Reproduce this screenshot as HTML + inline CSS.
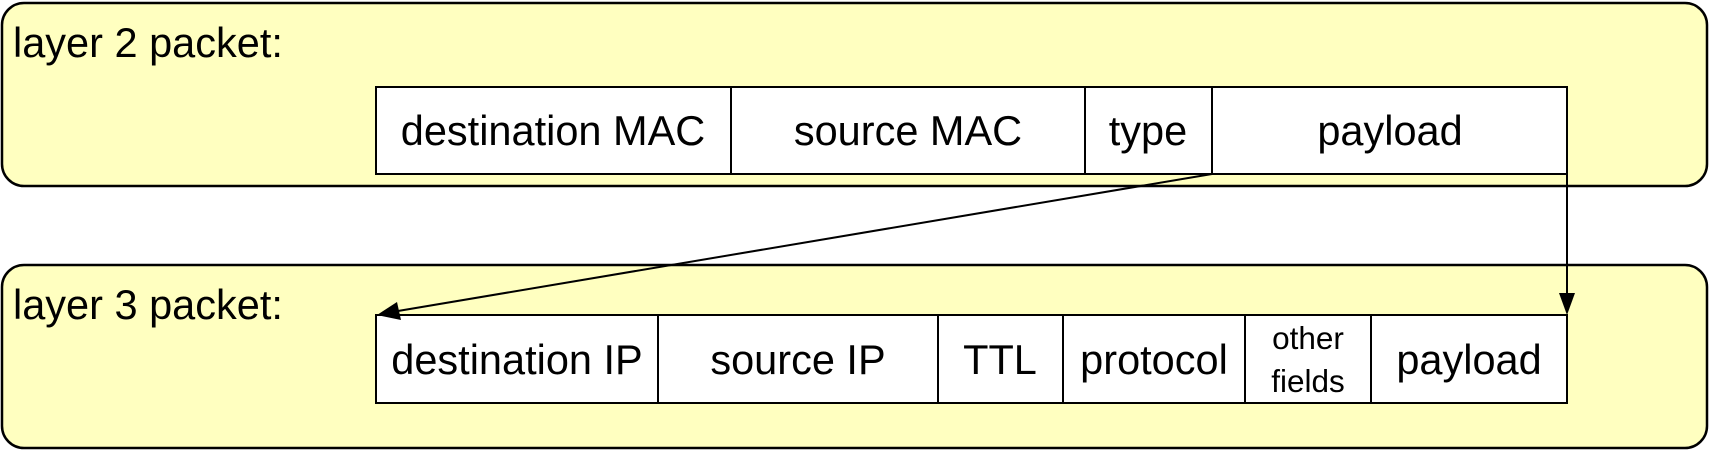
<!DOCTYPE html>
<html><head><meta charset="utf-8"><style>
html,body{margin:0;padding:0;background:#fff;}
svg{display:block;}
text{font-family:"Liberation Sans",Arial,sans-serif;fill:#000;}
</style></head><body>
<svg width="1712" height="451" viewBox="0 0 1712 451" xmlns="http://www.w3.org/2000/svg">
<rect x="2" y="3" width="1705" height="183" rx="22" fill="#ffffc0" stroke="#000" stroke-width="2.5"/>
<rect x="2" y="265" width="1705" height="183" rx="22" fill="#ffffc0" stroke="#000" stroke-width="2.5"/>
<text x="13" y="57" font-size="41.5">layer 2 packet:</text>
<text x="13" y="319" font-size="41.5">layer 3 packet:</text>

<g stroke="#000" stroke-width="2" fill="#fff">
<rect x="376" y="87" width="1191" height="87"/>
<line x1="731" y1="87" x2="731" y2="174"/>
<line x1="1085" y1="87" x2="1085" y2="174"/>
<line x1="1212" y1="87" x2="1212" y2="174"/>
<rect x="376" y="315" width="1191" height="88"/>
<line x1="658" y1="315" x2="658" y2="403"/>
<line x1="938" y1="315" x2="938" y2="403"/>
<line x1="1063" y1="315" x2="1063" y2="403"/>
<line x1="1245" y1="315" x2="1245" y2="403"/>
<line x1="1371" y1="315" x2="1371" y2="403"/>
</g>
<g font-size="41.5" text-anchor="middle">
<text x="553" y="145">destination MAC</text>
<text x="908" y="145">source MAC</text>
<text x="1148" y="145">type</text>
<text x="1390" y="145">payload</text>
<text x="517" y="374">destination IP</text>
<text x="798" y="374">source IP</text>
<text x="1000" y="374">TTL</text>
<text x="1154" y="374">protocol</text>
<text x="1469" y="374">payload</text>
<text x="1308" y="349" font-size="31.5">other</text>
<text x="1308" y="392" font-size="31.5">fields</text>
</g>
<g stroke="#000" stroke-width="2">
<line x1="1212" y1="174" x2="392" y2="312"/>
<line x1="1567" y1="174" x2="1567" y2="296"/>
</g>
<polygon points="377,315 397,302 401,320" fill="#000"/>
<polygon points="1567,315 1559,293 1575,293" fill="#000"/>
</svg>
</body></html>
